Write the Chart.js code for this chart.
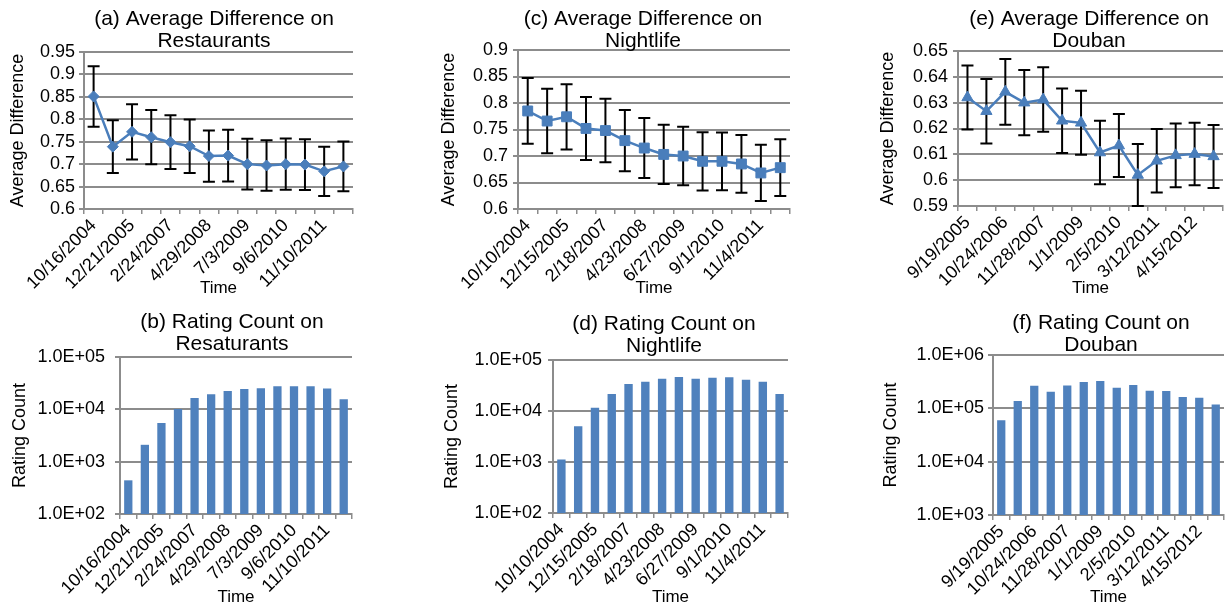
<!DOCTYPE html>
<html>
<head>
<meta charset="utf-8">
<script src="https://cdn.jsdelivr.net/npm/chart.js@4.4.1/dist/chart.umd.min.js"></script>
<style>
  html, body { margin: 0; padding: 0; background: #fff; overflow: hidden; }
  #wrap { position: relative; width: 1231px; height: 608px; overflow: hidden; }
  #wrap canvas { position: absolute; }
</style>
</head>
<body>
<div id="wrap">
  <canvas id="cA"></canvas>
  <canvas id="cC"></canvas>
  <canvas id="cE"></canvas>
  <canvas id="cB"></canvas>
  <canvas id="cD"></canvas>
  <canvas id="cF"></canvas>
</div>
<script>
// ---- data ----
const restDates = ['10/16/2004', '5/19/2005', '12/21/2005', '7/24/2006', '2/24/2007', '9/27/2007', '4/29/2008',
  '11/30/2008', '7/3/2009', '2/3/2010', '9/6/2010', '4/9/2011', '11/10/2011', '6/12/2012'];
const nightDates = ['10/10/2004', '5/13/2005', '12/15/2005', '7/18/2006', '2/18/2007', '9/21/2007', '4/23/2008',
  '11/24/2008', '6/27/2009', '1/28/2010', '9/1/2010', '4/4/2011', '11/4/2011', '6/6/2012'];
const doubanDates = ['9/19/2005', '4/7/2006', '10/24/2006', '5/12/2007', '11/28/2007', '6/15/2008', '1/1/2009',
  '7/20/2009', '2/5/2010', '8/24/2010', '3/12/2011', '9/28/2011', '4/15/2012', '11/1/2012'];

const diffRest = [0.851, 0.739, 0.772, 0.760, 0.749, 0.740, 0.718, 0.719, 0.700, 0.697, 0.700, 0.699, 0.684, 0.695];
const diffRestErr = [0.0675, 0.059, 0.0615, 0.0605, 0.060, 0.0595, 0.057, 0.0575, 0.0565, 0.0565, 0.057, 0.0565, 0.055, 0.0555];
const diffNight = [0.785, 0.766, 0.774, 0.752, 0.748, 0.729, 0.715, 0.703, 0.700, 0.690, 0.690, 0.685, 0.668, 0.678];
const diffNightErr = [0.062, 0.061, 0.0615, 0.0595, 0.060, 0.058, 0.0565, 0.056, 0.055, 0.055, 0.0545, 0.0545, 0.053, 0.0535];
const diffDouban = [0.632, 0.6267, 0.6342, 0.6300, 0.6312, 0.6230, 0.6222, 0.6107, 0.6134, 0.6020, 0.6075, 0.6096, 0.6101, 0.6092];
const diffDoubanErr = [0.0124, 0.0125, 0.0127, 0.0126, 0.0125, 0.0125, 0.0124, 0.0123, 0.0122, 0.0120, 0.0123, 0.0123, 0.0121, 0.0122];

const countRest = [440, 2100, 5500, 10200, 16500, 19400, 22500, 24500, 25300, 27600, 27600, 27600, 24900, 15600];
const countNight = [1120, 5050, 11600, 21500, 33700, 37500, 43000, 46300, 43000, 45000, 45700, 41100, 37500, 21500];
const countDouban = [60000, 137000, 265000, 205000, 269000, 311000, 325000, 244000, 273000, 214000, 211000, 163000, 158000, 118000];

const diffRestTicks = [0.6, 0.65, 0.7, 0.75, 0.8, 0.85, 0.9, 0.95];
const diffNightTicks = [0.6, 0.65, 0.7, 0.75, 0.8, 0.85, 0.9];
const diffDoubanTicks = [0.59, 0.6, 0.61, 0.62, 0.63, 0.64, 0.65];
const countTicksLow = [1e2, 1e3, 1e4, 1e5];
const countTickLabelsLow = ['1.0E+02', '1.0E+03', '1.0E+04', '1.0E+05'];
const countTicksHigh = [1e3, 1e4, 1e5, 1e6];
const countTickLabelsHigh = ['1.0E+03', '1.0E+04', '1.0E+05', '1.0E+06'];

// ---- look ----
Chart.defaults.font.family = '"Liberation Sans", Arial, sans-serif';
Chart.defaults.font.size = 18;
Chart.defaults.color = '#000';

const GRID = '#8c8c8c';
const BLUE = '#4a7ebb';
const BAR = '#4f81bd';
const X_TITLE_LH = 17 * 1.2;
const Y_TITLE_LH = 18 * 1.2;

// black +/- error bars, drawn under the line markers
const errorBars = {
  id: 'errorBars',
  beforeDatasetsDraw(chart, args, opts) {
    if (!opts || !opts.errors) return;
    const { ctx } = chart;
    const y = chart.scales.y;
    const vals = chart.data.datasets[0].data;
    const meta = chart.getDatasetMeta(0);
    ctx.save();
    ctx.strokeStyle = '#000';
    ctx.lineWidth = 2;
    meta.data.forEach((pt, i) => {
      const top = y.getPixelForValue(vals[i] + opts.errors[i]);
      const bot = y.getPixelForValue(vals[i] - opts.errors[i]);
      ctx.beginPath();
      ctx.moveTo(pt.x, top); ctx.lineTo(pt.x, bot);
      ctx.moveTo(pt.x - 6, top); ctx.lineTo(pt.x + 6, top);
      ctx.moveTo(pt.x - 6, bot); ctx.lineTo(pt.x + 6, bot);
      ctx.stroke();
    });
    ctx.restore();
  },
};

// g = page geometry of one panel: canvas origin, plot box, title/axis-title centres
function build(id, g, type, labels, dataset, yScale, errors) {
  const canvas = document.getElementById(id);
  const w = 2 * (g.cx - g.x0);
  canvas.width = w;
  canvas.height = g.h;
  canvas.style.left = g.x0 + 'px';
  canvas.style.top = g.y0 + 'px';
  const tTop = g.t1 - g.y0 - 11;
  const xBottom = g.xt - g.y0 + X_TITLE_LH / 2;
  yScale.ticks.padding = g.tp;

  return new Chart(canvas, {
    type,
    data: { labels, datasets: [dataset] },
    plugins: [errorBars],
    options: {
      responsive: false,
      animation: false,
      layout: { padding: { left: 0, right: 0, top: 0, bottom: g.h - xBottom } },
      plugins: {
        legend: { display: false },
        tooltip: { enabled: false },
        title: {
          display: true,
          text: g.title,
          font: { size: 21, weight: 'normal', lineHeight: 22 / 21 },
          padding: { top: tTop, bottom: g.T - g.y0 - tTop - 44 },
        },
        errorBars: { errors },
      },
      scales: {
        x: {
          offset: true,
          grid: { offset: true, drawOnChartArea: false, color: GRID, lineWidth: 1.5, tickLength: 5 },
          border: { color: GRID, width: 2 },
          ticks: {
            autoSkip: false, minRotation: 45, maxRotation: 45, padding: 1,
            callback: (v, i) => (i % 2 === 0 ? labels[i] : ''),
          },
          title: { display: true, text: 'Time', padding: 0, font: { size: 17 } },
          afterFit: (s) => { s.height = g.xt + X_TITLE_LH / 2 - g.B; },
        },
        y: Object.assign({
          grid: { color: GRID, lineWidth: 2, tickLength: 5 },
          border: { color: GRID, width: 2 },
          title: { display: true, text: g.yTitle, padding: { top: g.yt - g.x0 - Y_TITLE_LH / 2, bottom: 0 } },
          afterFit: (s) => { s.width = g.L - g.x0; },
        }, yScale),
        pad: {
          position: 'right',
          grid: { display: false },
          ticks: { display: false },
          border: { display: false },
          afterFit: (s) => { s.width = w - (g.R - g.x0); },
        },
      },
    },
  });
}

function lineSet(data, pointStyle, radius) {
  return {
    data, borderColor: BLUE, backgroundColor: BLUE, borderWidth: 2.5, tension: 0,
    pointStyle, pointRadius: radius, pointBackgroundColor: BLUE, pointBorderColor: BLUE, pointBorderWidth: 1,
  };
}
function barSet(data) {
  return { data, backgroundColor: BAR, barPercentage: 0.5, categoryPercentage: 1 };
}
function linearY(min, max, ticks) {
  return {
    type: 'linear', min, max,
    afterBuildTicks: (s) => { s.ticks = ticks.map((value) => ({ value })); },
    ticks: { autoSkip: false, callback: (v) => String(v) },
  };
}
function logY(min, max, ticks, tickLabels) {
  return {
    type: 'logarithmic', min, max,
    afterBuildTicks: (s) => { s.ticks = ticks.map((value) => ({ value })); },
    ticks: { autoSkip: false, callback: (v, i) => tickLabels[i] },
  };
}

build('cA', { x0: 0, y0: 0, h: 300, L: 84, R: 353, T: 52, B: 209, cx: 214, t1: 19, yt: 18, xt: 288, tp: 4,
  title: ['(a) Average Difference on', 'Restaurants'], yTitle: 'Average Difference' },
  'line', restDates, lineSet(diffRest, 'rectRot', 5.5), linearY(0.6, 0.95, diffRestTicks), diffRestErr);

build('cC', { x0: 410, y0: 0, h: 300, L: 518, R: 790, T: 50, B: 209, cx: 643, t1: 19, yt: 449, xt: 288, tp: 5,
  title: ['(c) Average Difference on', 'Nightlife'], yTitle: 'Average Difference' },
  'line', nightDates, lineSet(diffNight, 'rect', 7), linearY(0.6, 0.9, diffNightTicks), diffNightErr);

build('cE', { x0: 820, y0: 0, h: 300, L: 958, R: 1223, T: 51, B: 206, cx: 1089, t1: 19, yt: 888, xt: 288, tp: 5,
  title: ['(e) Average Difference on', 'Douban'], yTitle: 'Average Difference' },
  'line', doubanDates, lineSet(diffDouban, 'triangle', 6.5), linearY(0.59, 0.65, diffDoubanTicks), diffDoubanErr);

build('cB', { x0: 0, y0: 300, h: 308, L: 120, R: 352, T: 357, B: 514, cx: 232, t1: 322, yt: 20, xt: 597, tp: 10,
  title: ['(b) Rating Count on', 'Resaturants'], yTitle: 'Rating Count' },
  'bar', restDates, barSet(countRest), logY(1e2, 1e5, countTicksLow, countTickLabelsLow), null);

build('cD', { x0: 410, y0: 300, h: 308, L: 553, R: 788, T: 360, B: 513, cx: 664, t1: 324, yt: 452, xt: 597, tp: 6,
  title: ['(d) Rating Count on', 'Nightlife'], yTitle: 'Rating Count' },
  'bar', nightDates, barSet(countNight), logY(1e2, 1e5, countTicksLow, countTickLabelsLow), null);

build('cF', { x0: 820, y0: 300, h: 308, L: 993, R: 1224, T: 355, B: 515, cx: 1101, t1: 323, yt: 891, xt: 597, tp: 4,
  title: ['(f) Rating Count on', 'Douban'], yTitle: 'Rating Count' },
  'bar', doubanDates, barSet(countDouban), logY(1e3, 1e6, countTicksHigh, countTickLabelsHigh), null);
</script>
</body>
</html>
